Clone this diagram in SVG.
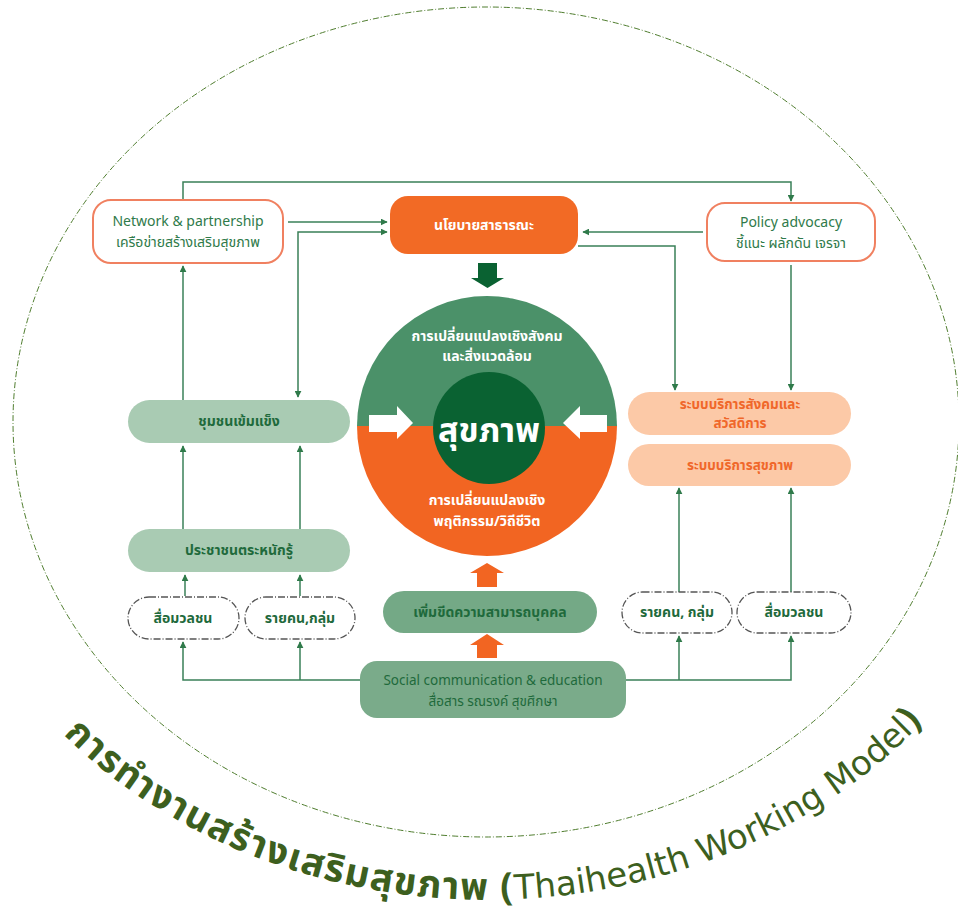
<svg xmlns="http://www.w3.org/2000/svg" width="958" height="917" viewBox="0 0 958 917">
<defs>
<marker id="ah" viewBox="0 0 10 10" refX="9" refY="5" markerWidth="7" markerHeight="7" markerUnits="userSpaceOnUse" orient="auto-start-reverse">
<path d="M0 0 L10 5 L0 10 Z" fill="#2f7a4a"/>
</marker>
<path id="arc" d="M28.3 696 A560 478 0 0 0 945.7 696"/>
<style>
.t{font-family:"Noto Sans Thai","Noto Sans","DejaVu Sans","Liberation Sans",sans-serif;text-anchor:middle}
.g{fill:#2f7a4a;font-size:14px}
.w{fill:#ffffff;font-size:14px;font-weight:bold}
.o{fill:#f0672a;font-size:13.5px;font-weight:bold}
.dg{fill:#1f6a3c;font-size:14px;font-weight:bold}
.ob{fill:#ffffff;stroke:#f08060;stroke-width:2}
.lg{fill:#a9cbb3}
.mg{fill:#74a986}
.pe{fill:#fcc9a7}
.dp{fill:#ffffff;stroke:#555;stroke-width:1.3;stroke-dasharray:7 2 1 2}
.c{fill:none;stroke:#3a8058;stroke-width:1.5}
</style>
</defs>
<rect width="958" height="917" fill="#ffffff"/>
<ellipse cx="486" cy="422" rx="473" ry="415" fill="none" stroke="#4f7d2e" stroke-width="1" stroke-dasharray="6 2 1 2"/>

<g id="connectors">
<path class="c" d="M183 199 V182 H791 V201" marker-end="url(#ah)"/>
<path class="c" d="M288 222 H387" marker-end="url(#ah)"/>
<path class="c" d="M387 232 H298 V397" marker-start="url(#ah)" marker-end="url(#ah)"/>
<path class="c" d="M183 400 V266" marker-end="url(#ah)"/>
<path class="c" d="M703 232 H583" marker-end="url(#ah)"/>
<path class="c" d="M578 246 H675 V390" marker-end="url(#ah)"/>
<path class="c" d="M791 265 V390" marker-end="url(#ah)"/>
<path class="c" d="M183 529 V446" marker-end="url(#ah)"/>
<path class="c" d="M300 529 V446" marker-end="url(#ah)"/>
<path class="c" d="M185 596 V575" marker-end="url(#ah)"/>
<path class="c" d="M300 596 V575" marker-end="url(#ah)"/>
<path class="c" d="M360 680 H183 V642" marker-end="url(#ah)"/>
<path class="c" d="M300 680 V642" marker-end="url(#ah)"/>
<path class="c" d="M626 680 H791 V636" marker-end="url(#ah)"/>
<path class="c" d="M679 680 V636" marker-end="url(#ah)"/>
<path class="c" d="M679 592 V488" marker-end="url(#ah)"/>
<path class="c" d="M791 592 V488" marker-end="url(#ah)"/>
<path d="M478 263 H497 V278 H504 L487.5 288 L471 278 H478 Z" fill="#0a6232"/>
<path d="M477 587 V573 H470 L487 563 L504 573 H497 V587 Z" fill="#f26522"/>
<path d="M477 658 V645 H470 L487 634 L504 645 H497 V658 Z" fill="#f26522"/>
</g>

<g id="n-network">
<rect class="ob" x="93" y="200" width="190" height="63" rx="18"/>
<text class="t g" x="188" y="226">Network &amp; partnership</text>
<text class="t g" x="188" y="247">เครือข่ายสร้างเสริมสุขภาพ</text>
</g>
<g id="n-public-policy">
<rect x="390" y="196" width="188" height="58" rx="18" fill="#f26a25"/>
<text class="t w" x="484" y="230">นโยบายสาธารณะ</text>
</g>
<g id="n-advocacy">
<rect class="ob" x="707" y="203" width="168" height="58" rx="18"/>
<text class="t g" x="791" y="227">Policy advocacy</text>
<text class="t g" x="791" y="248">ชี้แนะ ผลักดัน เจรจา</text>
</g>

<g id="n-health">
<path d="M357 426 A130 130 0 0 1 617 426 Z" fill="#4b9169"/>
<path d="M357 426 A130 130 0 0 0 617 426 Z" fill="#f26522"/>
<circle cx="489" cy="428" r="56" fill="#0a6232"/>
<path d="M369 415 H397 V406 L413 423 L397 439 V432 H369 Z" fill="#ffffff"/>
<path d="M607 415 H580 V406 L563 423 L580 439 V432 H607 Z" fill="#ffffff"/>
<text class="t w" x="487" y="341">การเปลี่ยนแปลงเชิงสังคม</text>
<text class="t w" x="487" y="361">และสิ่งแวดล้อม</text>
<text class="t" x="489" y="442" fill="#ffffff" font-size="34" font-weight="bold">สุขภาพ</text>
<text class="t w" x="487" y="505">การเปลี่ยนแปลงเชิง</text>
<text class="t w" x="487" y="526">พฤติกรรม/วิถีชีวิต</text>
</g>

<g id="n-community">
<rect class="lg" x="128" y="400" width="222" height="43" rx="21.5"/>
<text class="t dg" x="239" y="426">ชุมชนเข้มแข็ง</text>
</g>
<g id="n-aware">
<rect class="lg" x="128" y="529" width="222" height="43" rx="21.5"/>
<text class="t dg" x="239" y="555">ประชาชนตระหนักรู้</text>
</g>
<g id="n-media-left">
<rect class="dp" x="128" y="597" width="111" height="42" rx="21"/>
<text class="t dg" x="183" y="623">สื่อมวลชน</text>
</g>
<g id="n-person-left">
<rect class="dp" x="245" y="597" width="110" height="42" rx="21"/>
<text class="t dg" x="300" y="623">รายคน,กลุ่ม</text>
</g>
<g id="n-capacity">
<rect class="mg" x="383" y="591" width="214" height="42" rx="21"/>
<text class="t dg" x="490" y="617">เพิ่มขีดความสามารถบุคคล</text>
</g>
<g id="n-social">
<rect x="360" y="661" width="266" height="57" rx="17" fill="#7aab8a"/>
<text class="t" x="493" y="685" fill="#1f6a3c" font-size="13.5">Social communication &amp; education</text>
<text class="t" x="493" y="706" fill="#1f6a3c" font-size="13.5">สื่อสาร รณรงค์ สุขศึกษา</text>
</g>
<g id="n-person-right">
<rect class="dp" x="622" y="592" width="110" height="41" rx="20.5"/>
<text class="t dg" x="677" y="617">รายคน, กลุ่ม</text>
</g>
<g id="n-media-right">
<rect class="dp" x="737" y="592" width="114" height="41" rx="20.5"/>
<text class="t dg" x="794" y="617">สื่อมวลชน</text>
</g>
<g id="n-social-service">
<rect class="pe" x="628" y="392" width="223" height="43" rx="21.5"/>
<text class="t o" x="740" y="409">ระบบบริการสังคมและ</text>
<text class="t o" x="740" y="428">สวัสดิการ</text>
</g>
<g id="n-health-service">
<rect class="pe" x="628" y="444" width="223" height="42" rx="21"/>
<text class="t o" x="740" y="470">ระบบบริการสุขภาพ</text>
</g>

<g id="title">
<text font-family="'Noto Sans Thai','Noto Sans','DejaVu Sans',sans-serif" font-size="38" fill="#3d5f1e"><textPath href="#arc" startOffset="52"><tspan font-weight="bold" letter-spacing="1.5">การทำงานสร้างเสริมสุขภาพ (</tspan><tspan font-family="'DejaVu Sans',sans-serif" font-size="34">Thaihealth Working Model</tspan><tspan font-weight="bold">)</tspan></textPath></text>
</g>
</svg>
